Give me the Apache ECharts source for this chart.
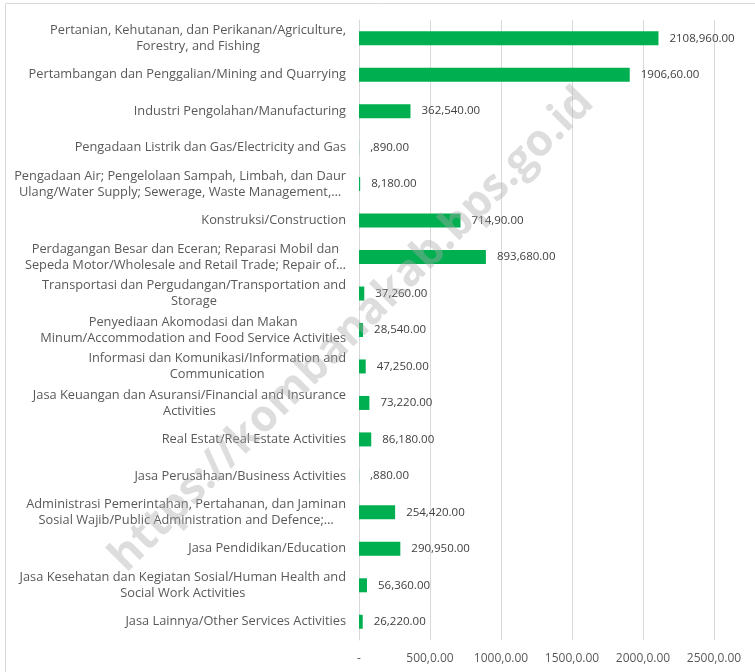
<!DOCTYPE html>
<html>
<head>
<meta charset="utf-8">
<script src="https://cdn.jsdelivr.net/npm/echarts@6/dist/echarts.min.js"></script>
<style>html,body{margin:0;padding:0;background:#fff}#c{width:755px;height:672px}</style>
</head>
<body>
<div id="c"></div>
<script>
const categories = [
  "Pertanian, Kehutanan, dan Perikanan/Agriculture,\nForestry, and Fishing",
  "Pertambangan dan Penggalian/Mining and Quarrying",
  "Industri Pengolahan/Manufacturing",
  "Pengadaan Listrik dan Gas/Electricity and Gas",
  "Pengadaan Air; Pengelolaan Sampah, Limbah, dan Daur\nUlang/Water Supply; Sewerage, Waste Management,\u2026",
  "Konstruksi/Construction",
  "Perdagangan Besar dan Eceran; Reparasi Mobil dan\nSepeda Motor/Wholesale and Retail Trade; Repair of\u2026",
  "Transportasi dan Pergudangan/Transportation and\nStorage",
  "Penyediaan Akomodasi dan Makan\nMinum/Accommodation and Food Service Activities",
  "Informasi dan Komunikasi/Information and\nCommunication",
  "Jasa Keuangan dan Asuransi/Financial and Insurance\nActivities",
  "Real Estat/Real Estate Activities",
  "Jasa Perusahaan/Business Activities",
  "Administrasi Pemerintahan, Pertahanan, dan Jaminan\nSosial Wajib/Public Administration and Defence;\u2026",
  "Jasa Pendidikan/Education",
  "Jasa Kesehatan dan Kegiatan Sosial/Human Health and\nSocial Work Activities",
  "Jasa Lainnya/Other Services Activities"
];
const values = [2108.96, 1906.60, 362.54, 0.89, 8.18, 714.90, 893.68, 37.26, 28.54, 47.25, 73.22, 86.18, 0.88, 254.42, 290.95, 56.36, 26.22];
const axisMin = 0, axisMax = 2500, axisInterval = 500;
const watermarkText = "https://kombanakab.bps.go.id";

function fmt(v) {
  if (v === 0) return "-";
  let [i, d] = v.toFixed(2).split(".");
  d = d.replace(/0+$/, "");
  if (i === "0") i = "";
  return i + "," + d + "0.00";
}

const chart = echarts.init(document.getElementById("c"), null, {renderer: "canvas"});
const FONT = "'Open Sans', 'Noto Sans', sans-serif";
chart.setOption({
  animation: false,
  backgroundColor: "#ffffff",
  grid: {left: 359, right: 41, top: 20, bottom: 32, containLabel: false},
  xAxis: {
    type: "value", min: axisMin, max: axisMax, interval: axisInterval,
    axisLine: {show: false}, axisTick: {show: false},
    splitLine: {show: true, lineStyle: {color: "#d9d9d9", width: 1}},
    axisLabel: {formatter: fmt, color: "#595959", fontFamily: FONT, fontSize: 12, margin: 13}
  },
  yAxis: {
    type: "category", data: categories, inverse: true,
    axisLine: {show: true, lineStyle: {color: "#d9d9d9", width: 1}},
    axisTick: {show: false},
    axisLabel: {
      color: "#595959", fontFamily: FONT, fontSize: 12.8, lineHeight: 16, margin: 13, align: "right",
      formatter: v => v.split("\n").map(l => "{c|" + l + "}").join("\n"),
      rich: {c: {align: "center", color: "#595959", fontFamily: FONT, fontSize: 12.8, lineHeight: 16}}
    }
  },
  series: [{
    type: "bar", data: values, barWidth: 14,
    itemStyle: {color: "#00b050"},
    label: {show: true, position: "right", distance: 11, formatter: p => fmt(p.value),
            color: "#404040", fontFamily: FONT, fontSize: 11.5}
  }],
  graphic: [
    {type: "rect", shape: {x: 5.5, y: 3.5, width: 900, height: 900}, style: {fill: null, stroke: "#d9d9d9", lineWidth: 1}, z: -1, silent: true},
    {type: "text", x: 352, y: 330, rotation: Math.PI / 4, z: 100, silent: true,
     style: {text: watermarkText, fill: "rgba(170,170,170,0.4)", font: "bold 44px " + FONT, align: "center", verticalAlign: "middle"}}
  ]
});
</script>
</body>
</html>
